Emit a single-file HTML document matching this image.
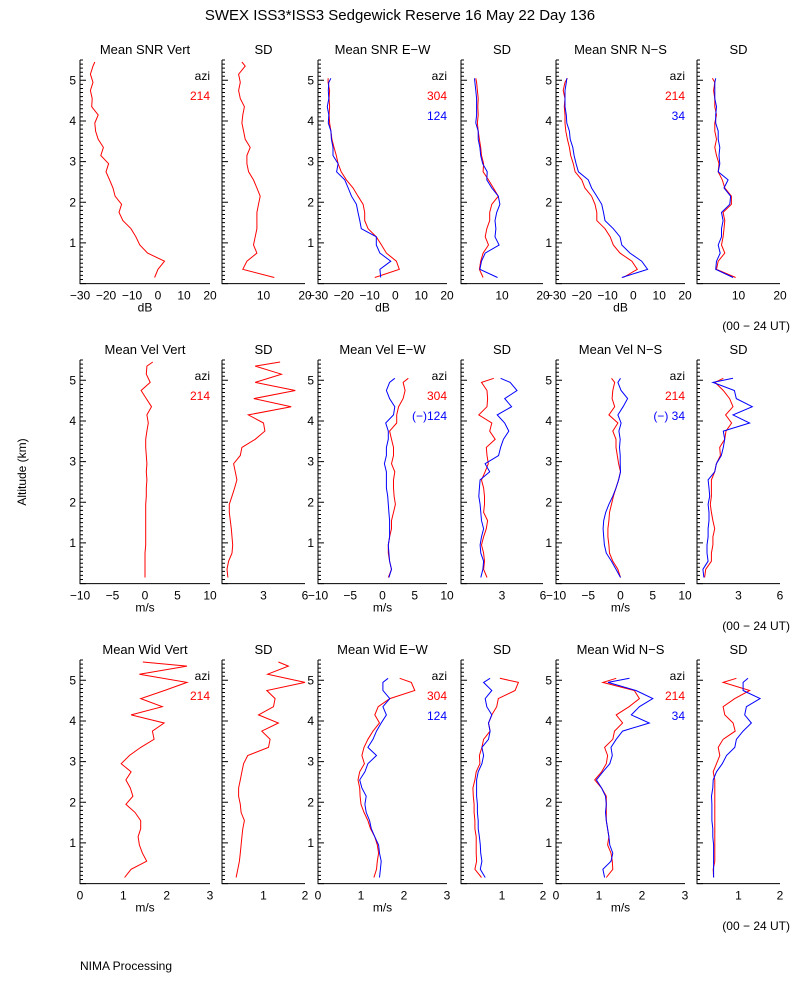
<!DOCTYPE html>
<html><head><meta charset="utf-8"><title>SWEX ISS3 profiles</title>
<style>
html,body{margin:0;padding:0;background:#fff}
svg{display:block}
text{font-family:"Liberation Sans",sans-serif}
</style></head>
<body>
<svg id="chart" xmlns="http://www.w3.org/2000/svg" width="800" height="1000" viewBox="0 0 800 1000">
<rect x="0" y="0" width="800" height="1000" fill="#fff"/>
<text x="400" y="20" text-anchor="middle" font-size="15" style="fill:#000">SWEX ISS3*ISS3 Sedgewick Reserve  16 May 22 Day 136</text>
<text x="26" y="472" text-anchor="middle" font-size="12" style="fill:#000" transform="rotate(-90 26 472)">Altitude (km)</text>
<text x="80" y="970" font-size="12" style="fill:#000">NIMA Processing</text>
<g id="plots"></g>
</svg>
<script>
// altitude categories (km)
const altV = [0.15,0.35,0.55,0.75,0.95,1.15,1.35,1.55,1.75,1.95,2.15,2.35,2.55,2.75,2.95,3.15,3.35,3.55,3.75,3.95,4.15,4.35,4.55,4.75,4.95,5.15,5.35,5.45];
const altO = [0.15,0.35,0.55,0.75,0.95,1.15,1.35,1.55,1.75,1.95,2.15,2.35,2.55,2.75,2.95,3.15,3.35,3.55,3.75,3.95,4.15,4.35,4.55,4.75,4.95,5.05];

// Row 1: SNR (dB)
const snrV = [-1.3,0,2.5,-4,-7,-8.5,-10.4,-13.5,-15,-14,-16.5,-17.3,-18.6,-20,-19,-22,-21,-23,-24,-24.3,-23,-25.5,-25.3,-26,-25,-26,-25,-24.3];
const snrVsd = [12.6,5,6,8.4,7.6,8,8.4,8.4,8.4,8.8,9.2,8.4,7.6,6.4,6,6,6.8,5.6,5.2,4.8,5,5.4,4.4,4,4.4,4,5.6,4.8];
const snrEWr = [-8,1.5,0.4,-3.5,-5.4,-7.4,-10.6,-11.9,-11.9,-12.5,-14.5,-16.4,-19,-21,-22.2,-22.9,-23.8,-24.6,-25,-25.5,-25.7,-25.5,-25.7,-25.5,-26.1,-26.1];
const snrEWb = [-5.7,-6,-1.8,-6,-7.4,-7.4,-13.2,-13.8,-14.5,-15.1,-17,-18.3,-19.6,-22.8,-22.2,-24.2,-24.2,-24.8,-25,-26,-25.8,-26.4,-25.8,-26,-25.8,-25];
const sdEWr = [5.4,4.5,4.8,5.4,6.7,5.9,6.3,7,7,7.5,9.1,7.9,6.7,5.4,5.5,5,4.8,4.5,4.2,4,4.2,4.1,4.2,4,3.8,3.6];
const sdEWb = [8.9,4.6,5,5.9,9.3,8.3,8.5,8.3,8.7,9.5,9.1,7.5,6.3,6.4,5.3,4.8,4.6,4.2,4.2,3.6,3.8,3.8,3.8,3.6,3.4,3.3];
const snrNSr = [-3.9,1.5,-0.6,-5.2,-7.8,-9,-11,-14.2,-14.2,-14.9,-16.2,-18.8,-20,-22.6,-23.3,-24.3,-24.8,-25.6,-26.2,-26.5,-26.5,-26.8,-26.5,-27.2,-26.5,-25.6];
const snrNSb = [-4.5,5.5,3.2,-1.3,-4.5,-5.2,-7.8,-11,-11.6,-12.3,-14.2,-16.2,-17.5,-21.3,-22.2,-23,-23.5,-24.5,-24.8,-25.8,-26,-26.5,-26.5,-26.5,-26,-25.8];
const sdNSr = [9.3,4.7,5.1,6.7,5.9,6.3,6.5,6.7,6.3,8.3,8.3,6.7,6.1,5.1,5.3,4.7,4.3,4.7,4.3,4.3,4.7,4.3,4.3,4.0,4.3,3.7];
const sdNSb = [8.7,4.5,4.7,5.6,5.1,5.9,5.9,6.3,5.9,7.9,8.1,6.5,7.5,5.1,5.5,5.3,5.5,5.1,5.1,4.5,4.5,4.7,4.3,4.3,4.3,4.5];

// Row 2: velocity (m/s)
const velV = [0,0,0,0,0.1,0.1,0.1,0.1,0.1,0.1,0.2,0.2,0.3,0.2,0.3,0.2,0.1,0.1,0.3,0.5,0.3,1.0,0.2,-0.6,0.8,0.2,0.3,1.2];
const velVsd = [0.43,0.36,0.48,0.72,0.77,0.72,0.67,0.6,0.53,0.53,0.72,0.91,1.08,0.96,0.84,1.32,1.44,2.4,3.1,3.0,1.9,5.0,2.3,5.3,2.4,4.3,2.4,4.2];
const velEWr = [0.9,1.4,1.1,0.9,0.9,1.1,1.4,1.4,1.7,2,1.8,1.7,1.7,1.9,1.4,1.7,1.7,1.4,1.1,2.2,2.2,2.5,3.2,3.5,3.2,4];
const velEWb = [1,1.4,1.1,1,0.9,1.1,1.1,1.1,1,0.9,0.8,0.6,0.6,0.6,0.3,0.6,0.6,0.9,0.9,0.5,1.7,1.9,1.1,0.6,1.1,1.9];
const sdVEWr = [1.9,1.65,1.72,1.65,1.5,1.65,1.85,1.95,1.65,1.72,1.72,1.65,1.5,1.76,2,1.9,1.85,2.5,2.1,2.25,1.3,1.9,1.95,1.9,1.5,2.4];
const sdVEWb = [1.45,1.6,1.65,1.45,1.4,1.5,1.65,1.5,1.45,1.4,1.3,1.35,1.4,2.1,1.76,2.75,2.9,3.1,3.5,3.2,2.65,3.7,3.2,4.1,3.6,2.9];
const velNSr = [0,-0.4,-1.2,-1.7,-1.8,-1.95,-1.95,-1.8,-1.7,-1.4,-1.1,-0.7,-0.3,0,-0.3,-0.5,-0.7,-0.7,-1.2,-0.4,-1.8,-0.9,-1.3,-1.2,-0.9,-1.4];
const velNSb = [0,-0.7,-1.4,-2.2,-2.5,-2.6,-2.7,-2.6,-2.3,-1.8,-1.2,-0.7,-0.3,0,-0.05,-0.05,-0.15,-0.05,-0.25,0.1,-0.4,0.4,1.1,0.1,-0.4,0];
const sdVNSr = [0.55,0.63,1.04,1.04,1.15,1.15,1.28,1.15,1.04,0.96,1.04,1.04,1.04,1.28,1.4,1.69,1.64,2,2.1,2.5,2.07,2.6,2.36,1.9,1.3,1.9];
const sdVNSb = [0.5,0.43,0.8,0.72,0.72,0.8,0.8,0.87,0.87,0.8,0.92,0.87,0.8,1.28,1.4,1.76,1.9,2,1.9,3.8,2.6,4,2.84,2.7,1.15,2.6];

// Row 3: spectral width (m/s)
const widV = [1.03,1.18,1.54,1.44,1.37,1.34,1.4,1.4,1.27,1.06,1.22,1.16,1.06,1.18,0.95,1.14,1.4,1.71,1.67,1.94,1.18,1.9,1.4,1.95,2.47,1.37,2.47,1.45];
const widVsd = [0.34,0.38,0.42,0.44,0.46,0.48,0.5,0.54,0.46,0.44,0.4,0.4,0.44,0.48,0.52,0.62,1.12,1.16,0.96,1.36,0.88,1.24,1.28,1.08,2,1.1,1.6,1.36];
const widEWr = [1.3,1.36,1.38,1.41,1.38,1.32,1.22,1.16,1.07,1,0.98,0.97,0.93,0.97,1.08,1.02,1.07,1.16,1.28,1.43,1.32,1.4,1.67,2.25,2.17,1.9];
const widEWb = [1.43,1.45,1.47,1.43,1.41,1.32,1.24,1.2,1.12,1.09,1.12,1.02,0.97,1.09,1.16,1.36,1.16,1.28,1.36,1.47,1.59,1.51,1.67,1.51,1.51,1.63];
const sdWEWr = [0.5,0.34,0.38,0.37,0.37,0.37,0.34,0.34,0.32,0.32,0.3,0.29,0.34,0.37,0.46,0.45,0.51,0.55,0.71,0.67,0.75,0.87,0.91,1.32,1.4,0.95];
const sdWEWb = [0.59,0.47,0.51,0.48,0.47,0.45,0.42,0.42,0.4,0.4,0.38,0.38,0.38,0.42,0.51,0.55,0.51,0.67,0.71,0.67,0.75,0.63,0.59,0.75,0.55,0.71];
const widNSr = [1.17,1.32,1.31,1.28,1.2,1.23,1.2,1.17,1.17,1.17,1.17,1.06,0.9,1.06,1.17,1.2,1.13,1.32,1.36,1.55,1.4,1.7,1.94,1.82,1.09,1.4];
const widNSb = [1.13,1.09,1.28,1.32,1.25,1.23,1.2,1.17,1.15,1.17,1.15,1.06,0.94,1.09,1.25,1.31,1.28,1.4,1.55,2.17,1.75,1.94,2.25,1.86,1.21,1.71];
const sdWNSr = [0.4,0.39,0.43,0.43,0.43,0.43,0.43,0.43,0.43,0.43,0.43,0.43,0.43,0.39,0.47,0.55,0.51,0.63,0.92,0.87,0.67,0.63,0.91,1.27,0.63,0.95];
const sdWNSb = [0.4,0.4,0.4,0.4,0.4,0.38,0.38,0.36,0.36,0.36,0.35,0.38,0.39,0.47,0.61,0.71,0.91,0.95,1.11,1.31,1.15,1.19,1.52,1.11,1.11,1.23];

// tick labels
const ticksSNR = [-30,-20,-10,0,10,20];
const ticksSNRsd = [10,20];
const ticksVel = [-10,-5,0,5,10];
const ticksVelsd = [3,6];
const ticksWid = [0,1,2,3];
const ticksWidsd = [1,2];
const yTicks = [1,2,3,4,5];

const NS = 'http://www.w3.org/2000/svg';
const root = document.getElementById('plots');
const cols = [[80,210],[222,305],[318,447],[461,543],[556,685],[697,780]];
const rowTop = [60,360,660];
const KM = 40.65;
const RED = '#ff0000', BLUE = '#0000ff';

function mk(tag, attrs, parent){
  const e = document.createElementNS(NS, tag);
  for (const k in attrs) e.setAttribute(k, attrs[k]);
  (parent||root).appendChild(e);
  return e;
}
function txt(x,y,s,anchor,size,color,parent){
  const t = mk('text',{x:x,y:y,'text-anchor':anchor,'font-size':size,style:'fill:'+(color||'#000')},parent);
  t.textContent = s;
  return t;
}

function panel(r, c, title, xmin, xmax, ticks, unit, series, legend, name){
  const [x0,x1] = cols[c];
  const top = rowTop[r];
  const yS = a => top + (5.5 - a)*KM;
  const xS = v => x0 + (v - xmin)/(xmax - xmin)*(x1 - x0);
  const bottom = yS(0);
  const g = mk('g',{});
  
  
  const tt = txt((x0+x1)/2, top-6, title, 'middle', 13, '#000', g);
  
  
  const ax = mk('path',{d:`M${x0},${top}V${bottom.toFixed(1)}H${x1}`,stroke:'#000','stroke-width':1,fill:'none'},g);
  
  
  let d = '';
  for (let i=0;i<=55;i++){
    const a = i/10, y = yS(a).toFixed(1);
    const len = (i%10===0) ? 6 : 3;
    d += `M${x0},${y}h${len}`;
  }
  const tk = mk('path',{d:d,stroke:'#000','stroke-width':1,fill:'none'},g);
  
  
  if (c%2===0){
    yTicks.forEach(v=>{
      const l = txt(x0-4, yS(v)+4, String(v), 'end', 12, '#000', g);
      
      
    });
  }
  ticks.forEach(v=>{
    const l = txt(xS(v), bottom+16, String(v).replace('-','\u2212'), 'middle', 12, '#000', g);
    
    
  });
  if (unit){
    const u = txt((x0+x1)/2, bottom+28, unit, 'middle', 12, '#000', g);
    
    
  }
  series.forEach(s=>{
    const pts = s.vals.map((v,i)=>xS(v).toFixed(1)+','+yS(s.alt[i]).toFixed(1)).join(' ');
    const pl = mk('polyline',{points:pts,fill:'none',stroke:s.color,'stroke-width':1},g);
    
    
  });
  if (legend){
    const a = txt(x1, top+20, 'azi', 'end', 12, '#000', g);
    
    
    legend.forEach((l,i)=>{
      const e = txt(x1, top+40+20*i, l[0], 'end', 12, l[1], g);
      
      
    });
  }
}

// Row 1
panel(0,0,'Mean SNR Vert',-30,20,ticksSNR,'dB',[{alt:altV,vals:snrV,color:RED,name:'snr-vert-line'}],[['214',RED]],'snr-vert-panel');
panel(0,1,'SD',0,20,ticksSNRsd,'',[{alt:altV,vals:snrVsd,color:RED,name:'snr-vert-sd-line'}],null,'snr-vert-sd-panel');
panel(0,2,'Mean SNR E\u2212W',-30,20,ticksSNR,'dB',[{alt:altO,vals:snrEWr,color:RED,name:'snr-ew-304-line'},{alt:altO,vals:snrEWb,color:BLUE,name:'snr-ew-124-line'}],[['304',RED],['124',BLUE]],'snr-ew-panel');
panel(0,3,'SD',0,20,ticksSNRsd,'',[{alt:altO,vals:sdEWr,color:RED,name:'snr-ew-sd-304-line'},{alt:altO,vals:sdEWb,color:BLUE,name:'snr-ew-sd-124-line'}],null,'snr-ew-sd-panel');
panel(0,4,'Mean SNR N\u2212S',-30,20,ticksSNR,'dB',[{alt:altO,vals:snrNSr,color:RED,name:'snr-ns-214-line'},{alt:altO,vals:snrNSb,color:BLUE,name:'snr-ns-34-line'}],[['214',RED],['34',BLUE]],'snr-ns-panel');
panel(0,5,'SD',0,20,ticksSNRsd,'',[{alt:altO,vals:sdNSr,color:RED,name:'snr-ns-sd-214-line'},{alt:altO,vals:sdNSb,color:BLUE,name:'snr-ns-sd-34-line'}],null,'snr-ns-sd-panel');
// Row 2
panel(1,0,'Mean Vel Vert',-10,10,ticksVel,'m/s',[{alt:altV,vals:velV,color:RED,name:'vel-vert-line'}],[['214',RED]],'vel-vert-panel');
panel(1,1,'SD',0,6,ticksVelsd,'',[{alt:altV,vals:velVsd,color:RED,name:'vel-vert-sd-line'}],null,'vel-vert-sd-panel');
panel(1,2,'Mean Vel E\u2212W',-10,10,ticksVel,'m/s',[{alt:altO,vals:velEWr,color:RED,name:'vel-ew-304-line'},{alt:altO,vals:velEWb,color:BLUE,name:'vel-ew-124-line'}],[['304',RED],['(\u2212)124',BLUE]],'vel-ew-panel');
panel(1,3,'SD',0,6,ticksVelsd,'',[{alt:altO,vals:sdVEWr,color:RED,name:'vel-ew-sd-304-line'},{alt:altO,vals:sdVEWb,color:BLUE,name:'vel-ew-sd-124-line'}],null,'vel-ew-sd-panel');
panel(1,4,'Mean Vel N\u2212S',-10,10,ticksVel,'m/s',[{alt:altO,vals:velNSr,color:RED,name:'vel-ns-214-line'},{alt:altO,vals:velNSb,color:BLUE,name:'vel-ns-34-line'}],[['214',RED],['(\u2212) 34',BLUE]],'vel-ns-panel');
panel(1,5,'SD',0,6,ticksVelsd,'',[{alt:altO,vals:sdVNSr,color:RED,name:'vel-ns-sd-214-line'},{alt:altO,vals:sdVNSb,color:BLUE,name:'vel-ns-sd-34-line'}],null,'vel-ns-sd-panel');
// Row 3
panel(2,0,'Mean Wid Vert',0,3,ticksWid,'m/s',[{alt:altV,vals:widV,color:RED,name:'wid-vert-line'}],[['214',RED]],'wid-vert-panel');
panel(2,1,'SD',0,2,ticksWidsd,'',[{alt:altV,vals:widVsd,color:RED,name:'wid-vert-sd-line'}],null,'wid-vert-sd-panel');
panel(2,2,'Mean Wid E\u2212W',0,3,ticksWid,'m/s',[{alt:altO,vals:widEWr,color:RED,name:'wid-ew-304-line'},{alt:altO,vals:widEWb,color:BLUE,name:'wid-ew-124-line'}],[['304',RED],['124',BLUE]],'wid-ew-panel');
panel(2,3,'SD',0,2,ticksWidsd,'',[{alt:altO,vals:sdWEWr,color:RED,name:'wid-ew-sd-304-line'},{alt:altO,vals:sdWEWb,color:BLUE,name:'wid-ew-sd-124-line'}],null,'wid-ew-sd-panel');
panel(2,4,'Mean Wid N\u2212S',0,3,ticksWid,'m/s',[{alt:altO,vals:widNSr,color:RED,name:'wid-ns-214-line'},{alt:altO,vals:widNSb,color:BLUE,name:'wid-ns-34-line'}],[['214',RED],['34',BLUE]],'wid-ns-panel');
panel(2,5,'SD',0,2,ticksWidsd,'',[{alt:altO,vals:sdWNSr,color:RED,name:'wid-ns-sd-214-line'},{alt:altO,vals:sdWNSb,color:BLUE,name:'wid-ns-sd-34-line'}],null,'wid-ns-sd-panel');

// UT range notes
[0,1,2].forEach(r=>{
  const t = txt(790, rowTop[r]+270, '(00 \u2212 24 UT)', 'end', 12, '#000');
  
  
});
</script>
</body></html>
